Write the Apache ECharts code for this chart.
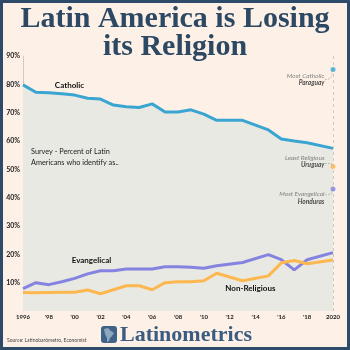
<!DOCTYPE html>
<html>
<head>
<meta charset="utf-8">
<script src="https://cdn.jsdelivr.net/npm/echarts@6/dist/echarts.min.js"></script>
<style>
  html, body { margin: 0; padding: 0; }
  #chart { width: 350px; height: 350px; }
</style>
</head>
<body>
<div id="chart"></div>
<script>
// survey years (no survey in 2012, 2014, 2019)
const years = [1996, 1997, 1998, 1999, 2000, 2001, 2002, 2003, 2004, 2005, 2006, 2007, 2008, 2009, 2010, 2011, 2013, 2015, 2016, 2017, 2018, 2020];
const catholic = [79.8, 77.2, 77.0, 76.7, 76.2, 75.1, 74.8, 72.7, 72.1, 71.8, 73.1, 70.2, 70.2, 71.0, 69.5, 67.3, 67.3, 63.9, 60.7, 60.0, 59.4, 57.4];
const evangelical = [7.9, 10.0, 9.3, 10.3, 11.5, 13.1, 14.2, 14.2, 14.8, 14.8, 14.8, 15.6, 15.6, 15.4, 15.1, 16.0, 17.1, 19.9, 18.1, 14.5, 18.1, 20.6];
const nonReligious = [6.5, 6.4, 6.5, 6.6, 6.6, 7.4, 6.1, 7.5, 8.9, 8.9, 7.5, 10.0, 10.3, 10.3, 10.7, 13.3, 10.7, 12.4, 17.0, 17.8, 16.7, 18.0];

// country extremes in 2020
const extremeLabels = ['Most Catholic', 'Least Religious', 'Most Evangelical'];
const extremeCountries = ['Paraguay', 'Uruguay', 'Honduras'];
const extremeValues = [85.2, 51.0, 43.1];

const blue = '#3ba5d2', purple = '#8484e0', orange = '#fdb74f';
const navy = '#2d4863';

function pairs(vals) {
  return years.map((y, i) => [y, vals[i]]);
}

const chart = echarts.init(document.getElementById('chart'));

const option = {
  backgroundColor: '#fdf1e7',
  animation: false,
  grid: { left: 23, right: 17, top: 56, bottom: 39 },
  xAxis: {
    type: 'value',
    min: 1996,
    max: 2020,
    interval: 2,
    axisLine: { show: false },
    axisTick: { show: false },
    splitLine: { show: false },
    axisLabel: {
      margin: 3,
      fontFamily: 'Lato',
      fontWeight: 'bold',
      fontSize: 6,
      color: '#222',
      formatter: v => (v === 1996 || v === 2020) ? String(v) : "'" + String(v).slice(2)
    }
  },
  yAxis: {
    type: 'value',
    min: 0,
    max: 90,
    interval: 10,
    axisLine: { show: true, lineStyle: { color: '#cfcac4', width: 1 } },
    axisTick: { show: false },
    splitLine: { show: false },
    axisLabel: {
      margin: 3,
      fontFamily: 'Lato',
      fontWeight: 'bold',
      fontSize: 7,
      color: '#222',
      formatter: v => v === 0 ? '' : v + '%'
    }
  },
  series: [
    {
      name: 'Catholic',
      type: 'line',
      data: pairs(catholic),
      symbol: 'none',
      lineStyle: { color: blue, width: 3 },
      areaStyle: { color: '#e9e9e3', opacity: 1 },
      z: 2,
      markLine: {
        silent: true,
        symbol: 'none',
        label: { show: false },
        lineStyle: { color: '#cfcac4', type: [3, 3], width: 1 },
        data: [{ xAxis: 2020 }]
      },
      markPoint: {
        symbol: 'circle',
        symbolSize: 0,
        label: { show: true, formatter: 'Catholic', fontFamily: 'Lato', fontWeight: 'bold', fontSize: 8, color: '#111' },
        data: [{ coord: [1999.6, 79.5] }]
      }
    },
    {
      name: 'Evangelical',
      type: 'line',
      data: pairs(evangelical),
      symbol: 'none',
      lineStyle: { color: purple, width: 3 },
      z: 3,
      markPoint: {
        symbol: 'circle',
        symbolSize: 0,
        label: { show: true, formatter: 'Evangelical', fontFamily: 'Lato', fontWeight: 'bold', fontSize: 8, color: '#111' },
        data: [{ coord: [2001.3, 17.8] }]
      }
    },
    {
      name: 'Non-Religious',
      type: 'line',
      data: pairs(nonReligious),
      symbol: 'none',
      lineStyle: { color: orange, width: 3 },
      z: 4,
      markPoint: {
        symbol: 'circle',
        symbolSize: 0,
        label: { show: true, formatter: 'Non-Religious', fontFamily: 'Lato', fontWeight: 'bold', fontSize: 8, color: '#111' },
        data: [{ coord: [2013.6, 8.0] }]
      }
    },
    {
      name: 'extremes',
      type: 'scatter',
      symbolSize: 5,
      z: 5,
      data: extremeValues.map((v, i) => ({
        value: [2020, v],
        itemStyle: { color: [blue, orange, purple][i] },
        label: { offset: [0, [10, -5, 9][i]] }
      })),
      label: {
        show: true,
        position: 'left',
        distance: 6,
        align: 'right',
        formatter: p => extremeLabels[p.dataIndex] + '\n{b|' + extremeCountries[p.dataIndex] + '}',
        fontFamily: 'Lato',
        fontStyle: 'italic',
        fontSize: 6.5,
        color: '#666',
        lineHeight: 7.5,
        rich: {
          b: { fontFamily: 'Lato', fontStyle: 'italic', fontWeight: 'bold', fontSize: 6.5, color: '#222', lineHeight: 7.5, align: 'right' }
        }
      }
    }
  ],
  graphic: [
    {
      type: 'rect',
      shape: { x: 1.5, y: 1.5, width: 347, height: 347 },
      style: { fill: 'none', stroke: '#2e4a69', lineWidth: 3 },
      z: 100
    },
    {
      type: 'text', x: 175, y: 19,
      style: { text: 'Latin America is Losing', font: 'bold 30px "Liberation Serif"', fill: navy, align: 'center', verticalAlign: 'middle' },
      z: 50
    },
    {
      type: 'text', x: 175, y: 47,
      style: { text: 'its Religion', font: 'bold 30px "Liberation Serif"', fill: navy, align: 'center', verticalAlign: 'middle' },
      z: 50
    },
    {
      type: 'text', x: 31, y: 146,
      style: { text: 'Survey - Percent of Latin\nAmericans who identify as..', font: '7.3px Lato', fill: '#222', lineHeight: 11 },
      z: 50
    },
    {
      type: 'text', x: 7, y: 340,
      style: { text: 'Source: Latinobarómetro, Economist', font: '5px Lato', fill: '#444', verticalAlign: 'middle' },
      z: 50
    },
    {
      type: 'rect',
      shape: { x: 101, y: 326, width: 16, height: 17, r: 3 },
      style: { fill: '#3f6388' },
      z: 50
    },
    {
      type: 'polygon',
      shape: { points: [[104, 329], [108, 328], [111, 331], [114, 333], [112, 336], [110, 338], [109, 341], [107, 342], [107, 338], [105, 334]] },
      style: { fill: '#8fa6bf' },
      z: 51
    },
    {
      type: 'text', x: 120, y: 335,
      style: { text: 'Latinometrics', font: 'bold 22px "Liberation Serif"', fill: '#3b5b80', verticalAlign: 'middle' },
      z: 50
    }
  ]
};

chart.setOption(option);

// small dashed connectors from the notes to the 2020 dots
const conn = [];
const offs = [[-8, 10], [-8, -3], [-8, 6]];
extremeValues.forEach((v, i) => {
  const p = chart.convertToPixel({ gridIndex: 0 }, [2020, v]);
  const o = offs[i];
  const sx = p[0] + o[0], sy = p[1] + o[1];
  conn.push({
    type: 'bezierCurve',
    shape: { x1: sx, y1: sy, x2: p[0] - 1, y2: p[1] + (o[1] > 0 ? 2 : -2), cpx1: p[0], cpy1: sy },
    style: { stroke: '#888', lineWidth: 0.6, lineDash: [1.5, 1.5], fill: 'none' },
    z: 60
  });
});
chart.setOption({ graphic: option.graphic.concat(conn) });
</script>
</body>
</html>
